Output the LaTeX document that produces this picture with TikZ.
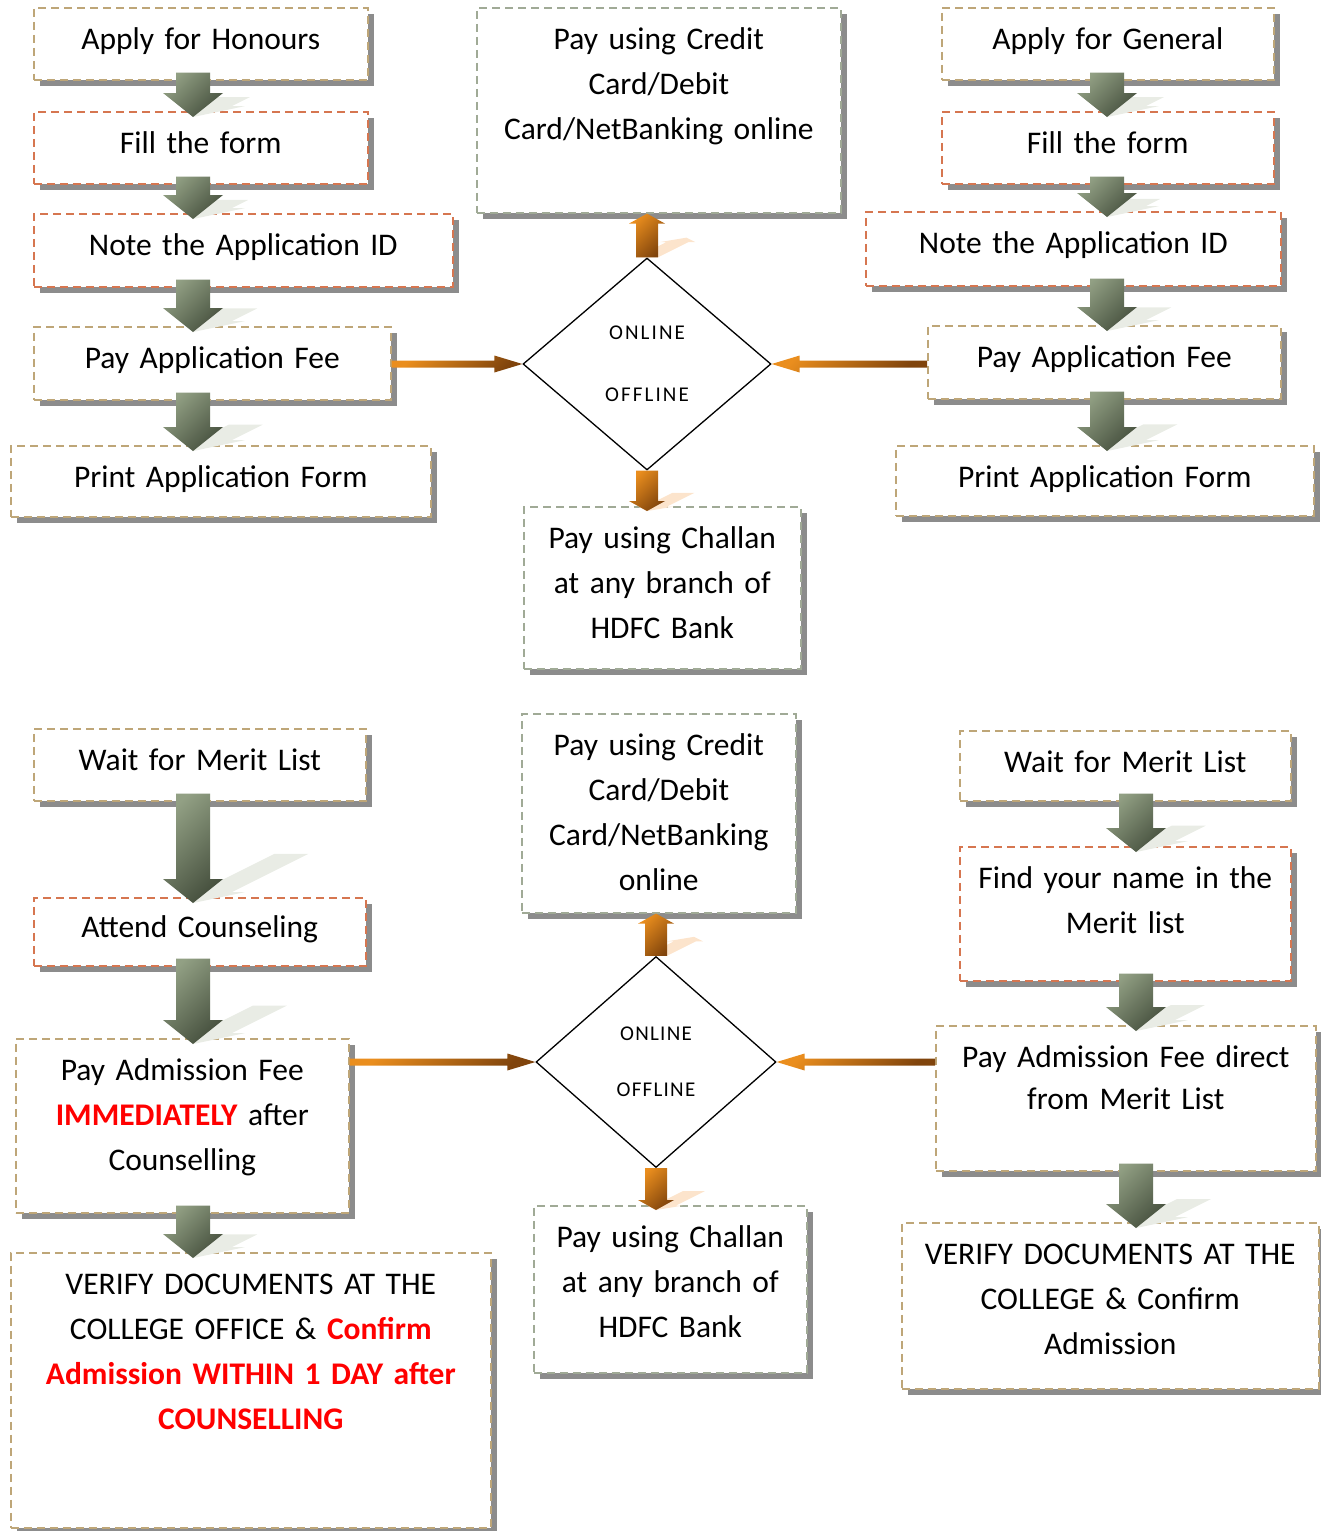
\documentclass[tikz,border=0pt]{standalone}
\usepackage{fontspec}
\setmainfont{Carlito}
\usepackage{tikz}
\usetikzlibrary{shapes.geometric, shadows, calc}

\begin{document}
\begin{tikzpicture}[x=1pt, y=-1pt,
	box/.style={line width=1.6pt, dash pattern=on 8pt off 5pt, fill=white,
		drop shadow={shadow xshift=6pt, shadow yshift=-6pt, fill={rgb,255:red,140;green,140;blue,140}, opacity=1},
		anchor=north west, align=center, inner xsep=4pt, inner ysep=0pt, text height=42pt,
		font=\fontsize{31.5}{45}\selectfont},
	tanbox/.style={box, draw={rgb,255:red,190;green,166;blue,120}},
	redbox/.style={box, draw={rgb,255:red,214;green,118;blue,80}},
	greenbox/.style={box, draw={rgb,255:red,160;green,170;blue,150}},
	choice/.style={diamond, draw=black, line width=1.3pt, fill=white, inner sep=0pt, align=center},
	flow/.style args={#1/#2/#3/#4/#5}{draw=none, to path={
		let \p1=($(\tikztostart)!-#4!(\tikztotarget)$), \p2=($(\tikztotarget)!-#5!(\tikztostart)$),
			\n1={veclen(\x2-\x1,\y2-\y1)}, \n2={(\x2-\x1)/\n1}, \n3={(\y2-\y1)/\n1}
		in ({\x1-#1*(\n3)},{\y1+#1*(\n2)})
		-- ({\x2-#3*(\n2)-#1*(\n3)},{\y2-#3*(\n3)+#1*(\n2)})
		-- ({\x2-#3*(\n2)-#2*(\n3)},{\y2-#3*(\n3)+#2*(\n2)})
		-- (\x2,\y2)
		-- ({\x2-#3*(\n2)+#2*(\n3)},{\y2-#3*(\n3)-#2*(\n2)})
		-- ({\x2-#3*(\n2)+#1*(\n3)},{\y2-#3*(\n3)-#1*(\n2)})
		-- ({\x1+#1*(\n3)},{\y1-#1*(\n2)}) -- cycle}},
	dshade/.style args={#1/#2/#3/#4/#5}{draw=none, to path={
		let \p1=($(\tikztostart)!-#4!(\tikztotarget)$), \p2=($(\tikztotarget)!-#5!(\tikztostart)$),
			\n1={veclen(\x2-\x1,\y2-\y1)}
		in (\x2,\y2) -- ({\x2+#2+0.9*#3},{\y2+0.45*#3}) -- ({\x2+#1+0.9*#3},{\y2+0.45*#3})
		-- ({\x2+#1+0.9*\n1},{\y2+0.45*\n1}) -- ({\x2-#1+0.9*\n1},{\y2+0.45*\n1})
		-- ({\x2-#1+0.9*#3},{\y2+0.45*#3}) -- ({\x2-#2+0.9*#3},{\y2+0.45*#3}) -- cycle}},
	ushade/.style args={#1/#2/#3/#4/#5}{draw=none, to path={
		let \p1=($(\tikztostart)!-#4!(\tikztotarget)$), \p2=($(\tikztotarget)!-#5!(\tikztostart)$),
			\n1={veclen(\x2-\x1,\y2-\y1)}
		in ({\x1-#1},\y1) -- ({\x1+#1},\y1)
		-- ({\x1+#1+0.9*(\n1-#3)},{\y1+0.45*(\n1-#3)}) -- ({\x1+#2+0.9*(\n1-#3)},{\y1+0.45*(\n1-#3)})
		-- ({\x1+0.9*\n1},{\y1+0.45*\n1})
		-- ({\x1-#2+0.9*(\n1-#3)},{\y1+0.45*(\n1-#3)}) -- ({\x1-#1+0.9*(\n1-#3)},{\y1+0.45*(\n1-#3)}) -- cycle}},
	garrow/.style={flow=17/30/24/8pt/6pt, top color={rgb,255:red,146;green,160;blue,132},
		bottom color={rgb,255:red,70;green,80;blue,62}, shading angle=45},
	gdrop/.style={dshade=17/30/24/8pt/6pt, fill={rgb,255:red,233;green,236;blue,229}},
	oarrow/.style={flow=11/18/10/0pt/#1, top color={rgb,255:red,234;green,142;blue,30},
		bottom color={rgb,255:red,128;green,68;blue,12}, shading angle=45},
	oarrow/.default=0pt,
	odrop/.style={dshade=11/18/10/0pt/5pt, fill={rgb,255:red,252;green,228;blue,204}},
	oup/.style={ushade=11/18/10/0pt/0pt, fill={rgb,255:red,252;green,228;blue,204}},
	harrow/.style={flow=3.5/8.5/28/0pt/0pt, top color={rgb,255:red,234;green,142;blue,30},
		bottom color={rgb,255:red,128;green,68;blue,12}, shading angle=45}]

	\useasboundingbox (0,0) rectangle (1320,1531);

	% Add the boxes
	\node[tanbox, text width=326pt, text depth=30pt] (hon) at (33,7) {Apply for Honours};
	\node[redbox, text width=326pt, text depth=30pt] (fillh) at (33,111) {Fill the form};
	\node[redbox, text width=411pt, text depth=31pt] (noteh) at (33,213) {Note the Application ID};
	\node[tanbox, text width=349pt, text depth=31pt] (payh) at (33,326) {Pay Application Fee};
	\node[tanbox, text width=412pt, text depth=29pt] (printh) at (10,445) {Print Application Form};

	\node[greenbox, text width=356pt, text depth=163pt] (credt) at (476,7)
		{Pay using Credit\\Card/Debit\\Card/NetBanking online};
	\node[greenbox, text width=269pt, text depth=120pt] (challt) at (523,506)
		{Pay using Challan\\at any branch of\\HDFC Bank};

	\node[tanbox, text width=324pt, text depth=30pt] (gen) at (941,7) {Apply for General};
	\node[redbox, text width=324pt, text depth=30pt] (fillg) at (941,111) {Fill the form};
	\node[redbox, text width=407pt, text depth=32pt] (noteg) at (865,211) {Note the Application ID};
	\node[tanbox, text width=345pt, text depth=31pt] (payg) at (927,325) {Pay Application Fee};
	\node[tanbox, text width=410pt, text depth=28pt] (printg) at (895,445) {Print Application Form};

	\node[tanbox, text width=324pt, text depth=30pt] (waitl) at (33,728) {Wait for Merit List};
	\node[redbox, text width=324pt, text height=40pt, text depth=28pt] (attend) at (33,897) {Attend Counseling};
	\node[tanbox, text width=325pt, text depth=132pt] (payadm) at (15,1038)
		{Pay Admission Fee\\\textcolor{red}{\textbf{IMMEDIATELY}} after\\Counselling};
	\node[tanbox, text width=472pt, text depth=233pt] (verl) at (10,1252)
		{VERIFY DOCUMENTS AT THE\\COLLEGE OFFICE \& \textcolor{red}{\textbf{Confirm}}\\
		\textcolor{red}{\textbf{Admission WITHIN 1 DAY after}}\\\textcolor{red}{\textbf{COUNSELLING}}};

	\node[greenbox, text width=266pt, text depth=157pt] (credb) at (521,713)
		{Pay using Credit\\Card/Debit\\Card/NetBanking\\online};
	\node[greenbox, text width=265pt, text depth=125pt] (challb) at (533,1205)
		{Pay using Challan\\at any branch of\\HDFC Bank};

	\node[tanbox, text width=323pt, text depth=28pt] (waitr) at (959,730) {Wait for Merit List};
	\node[redbox, text width=323pt, text depth=92pt] (findr) at (959,846) {Find your name in the\\Merit list};
	\node[tanbox, text width=372pt, text depth=103pt, font=\fontsize{31.5}{42}\selectfont] (payr) at (935,1025)
		{Pay Admission Fee direct\\from Merit List};
	\node[tanbox, text width=409pt, text depth=124pt] (verr) at (901,1222)
		{VERIFY DOCUMENTS AT THE\\COLLEGE \& Confirm\\Admission};

	% Add the choices
	\node[choice, minimum width=248pt, minimum height=212pt,
		font=\fontsize{21}{62}\selectfont\addfontfeatures{LetterSpace=10}] (mode1) at (647,364) {ONLINE\\OFFLINE};
	\node[choice, minimum width=240pt, minimum height=211pt,
		font=\fontsize{21}{56}\selectfont\addfontfeatures{LetterSpace=6}] (mode2) at (656,1062) {ONLINE\\OFFLINE};

	\coordinate (lcol) at (193,0);
	\coordinate (rcol) at (1107,0);
	\coordinate (brcol) at (1136,0);

	% Add the steps
	\path (hon.south -| lcol) edge[gdrop] (fillh.north -| lcol) edge[garrow] (fillh.north -| lcol);
	\path (fillh.south -| lcol) edge[gdrop] (noteh.north -| lcol) edge[garrow] (noteh.north -| lcol);
	\path (noteh.south -| lcol) edge[gdrop] (payh.north -| lcol) edge[garrow] (payh.north -| lcol);
	\path (payh.south -| lcol) edge[gdrop] (printh.north -| lcol) edge[garrow] (printh.north -| lcol);
	\path (gen.south -| rcol) edge[gdrop] (fillg.north -| rcol) edge[garrow] (fillg.north -| rcol);
	\path (fillg.south -| rcol) edge[gdrop] (noteg.north -| rcol) edge[garrow] (noteg.north -| rcol);
	\path (noteg.south -| rcol) edge[gdrop] (payg.north -| rcol) edge[garrow] (payg.north -| rcol);
	\path (payg.south -| rcol) edge[gdrop] (printg.north -| rcol) edge[garrow] (printg.north -| rcol);
	\path (waitl.south -| lcol) edge[gdrop] (attend.north -| lcol) edge[garrow] (attend.north -| lcol);
	\path (attend.south -| lcol) edge[gdrop] (payadm.north -| lcol) edge[garrow] (payadm.north -| lcol);
	\path (payadm.south -| lcol) edge[gdrop] (verl.north -| lcol) edge[garrow] (verl.north -| lcol);
	\path (waitr.south -| brcol) edge[gdrop] (findr.north -| brcol) edge[garrow] (findr.north -| brcol);
	\path (findr.south -| brcol) edge[gdrop] (payr.north -| brcol) edge[garrow] (payr.north -| brcol);
	\path (payr.south -| brcol) edge[gdrop] (verr.north -| brcol) edge[garrow] (verr.north -| brcol);

	% Add the payment arrows
	\path (payh.east |- mode1.west) edge[harrow] (mode1.west);
	\path (payg.west |- mode1.east) edge[harrow] (mode1.east);
	\path (payadm.east |- mode2.west) edge[harrow] (mode2.west);
	\path (payr.west |- mode2.east) edge[harrow] (mode2.east);
	\path (mode1.north) edge[oup] (credt.south -| mode1.north) edge[oarrow] (credt.south -| mode1.north);
	\path (mode1.south) edge[odrop] (challt.north -| mode1.south) edge[oarrow=5pt] (challt.north -| mode1.south);
	\path (mode2.north) edge[oup] (credb.south -| mode2.north) edge[oarrow] (credb.south -| mode2.north);
	\path (mode2.south) edge[odrop] (challb.north -| mode2.south) edge[oarrow=5pt] (challb.north -| mode2.south);
\end{tikzpicture}
\end{document}
